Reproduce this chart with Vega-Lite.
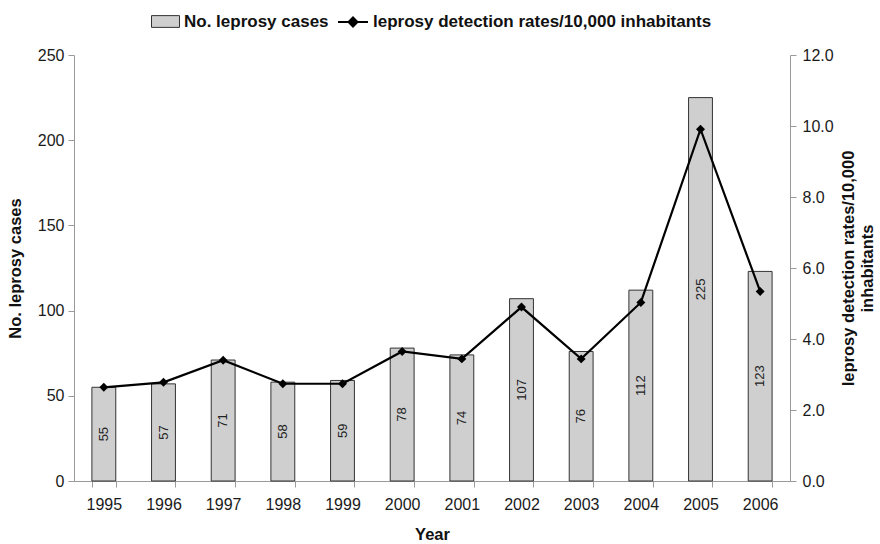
{
  "$schema": "https://vega.github.io/schema/vega-lite/v6.json",
  "width": 716,
  "height": 426,
  "autosize": {"type": "none"},
  "padding": {"left": 74, "top": 55, "right": 90, "bottom": 63},
  "background": "white",
  "config": {
    "font": "Liberation Sans",
    "view": {"stroke": null},
    "axis": {
      "grid": false,
      "domainColor": "#9a9a9a",
      "tickColor": "#9a9a9a",
      "labelFont": "Liberation Sans",
      "labelFontSize": 16,
      "labelColor": "#1a1a1a",
      "titleFont": "Liberation Sans",
      "titleFontSize": 16.5,
      "titleFontWeight": "bold",
      "titleColor": "#111"
    },
    "legend": {
      "labelFont": "Liberation Sans",
      "labelFontSize": 17,
      "labelFontWeight": "bold",
      "labelColor": "#111",
      "labelLimit": 0,
      "padding": 0
    }
  },
  "data": {
    "values": [
      {"year": "1995", "cases": 55, "rate": 2.64},
      {"year": "1996", "cases": 57, "rate": 2.78},
      {"year": "1997", "cases": 71, "rate": 3.40},
      {"year": "1998", "cases": 58, "rate": 2.74},
      {"year": "1999", "cases": 59, "rate": 2.74},
      {"year": "2000", "cases": 78, "rate": 3.65},
      {"year": "2001", "cases": 74, "rate": 3.44},
      {"year": "2002", "cases": 107, "rate": 4.90},
      {"year": "2003", "cases": 76, "rate": 3.44},
      {"year": "2004", "cases": 112, "rate": 5.03},
      {"year": "2005", "cases": 225, "rate": 9.91},
      {"year": "2006", "cases": 123, "rate": 5.34}
    ]
  },
  "encoding": {
    "x": {
      "field": "year",
      "type": "ordinal",
      "scale": {"paddingInner": 0.6, "paddingOuter": 0.3},
      "axis": {
        "title": "Year",
        "labelAngle": 0,
        "tickBand": "extent",
        "tickSize": 6,
        "labelPadding": 9,
        "titlePadding": 14
      }
    }
  },
  "layer": [
    {
      "mark": {"type": "bar", "stroke": "#333", "strokeWidth": 1},
      "encoding": {
        "y": {
          "field": "cases",
          "type": "quantitative",
          "scale": {"domain": [0, 250], "nice": false},
          "axis": {
            "title": "No. leprosy cases",
            "orient": "left",
            "values": [0, 50, 100, 150, 200, 250],
            "tickSize": 6,
            "labelPadding": 4,
            "titlePadding": 14
          }
        },
        "fill": {
          "datum": "No. leprosy cases",
          "type": "nominal",
          "scale": {"range": ["#cfcfcf"]},
          "legend": {
            "title": null,
            "orient": "none",
            "legendX": 77,
            "legendY": -48,
            "symbolType": "M-1,-0.42H1V0.42H-1Z",
            "symbolSize": 784,
            "symbolStrokeColor": "#333",
            "symbolStrokeWidth": 1,
            "labelOffset": 4
          }
        }
      }
    },
    {
      "mark": {
        "type": "text",
        "angle": 270,
        "align": "center",
        "baseline": "middle",
        "fontSize": 13,
        "color": "#222"
      },
      "encoding": {
        "y": {
          "field": "cases",
          "type": "quantitative",
          "scale": {"domain": [0, 500], "nice": false},
          "axis": null
        },
        "text": {"field": "cases", "type": "quantitative"}
      }
    },
    {
      "encoding": {
        "y": {
          "field": "rate",
          "type": "quantitative",
          "scale": {"domain": [0, 12], "nice": false},
          "axis": {
            "title": ["leprosy detection rates/10,000", "inhabitants"],
            "orient": "right",
            "values": [0, 2, 4, 6, 8, 10, 12],
            "format": ".1f",
            "tickSize": 6,
            "labelPadding": 6,
            "titleAngle": 270,
            "titlePadding": 5
          }
        }
      },
      "layer": [
        {
          "mark": {"type": "line", "strokeWidth": 2.2},
          "encoding": {
            "stroke": {
              "datum": "leprosy detection rates/10,000 inhabitants",
              "type": "nominal",
              "scale": {"range": ["#000000"]},
              "legend": {
                "title": null,
                "orient": "none",
                "legendX": 263,
                "legendY": -49,
                "symbolType": "M-1,0H1M0,-0.3L0.3,0L0,0.3L-0.3,0Z",
                "symbolSize": 900,
                "symbolStrokeWidth": 2,
                "symbolFillColor": "#000",
                "labelOffset": 4
              }
            }
          }
        },
        {
          "mark": {"type": "point", "shape": "diamond", "filled": true, "size": 80, "color": "#000", "opacity": 1}
        }
      ]
    }
  ],
  "resolve": {"scale": {"y": "independent", "fill": "independent", "stroke": "independent"}}
}
